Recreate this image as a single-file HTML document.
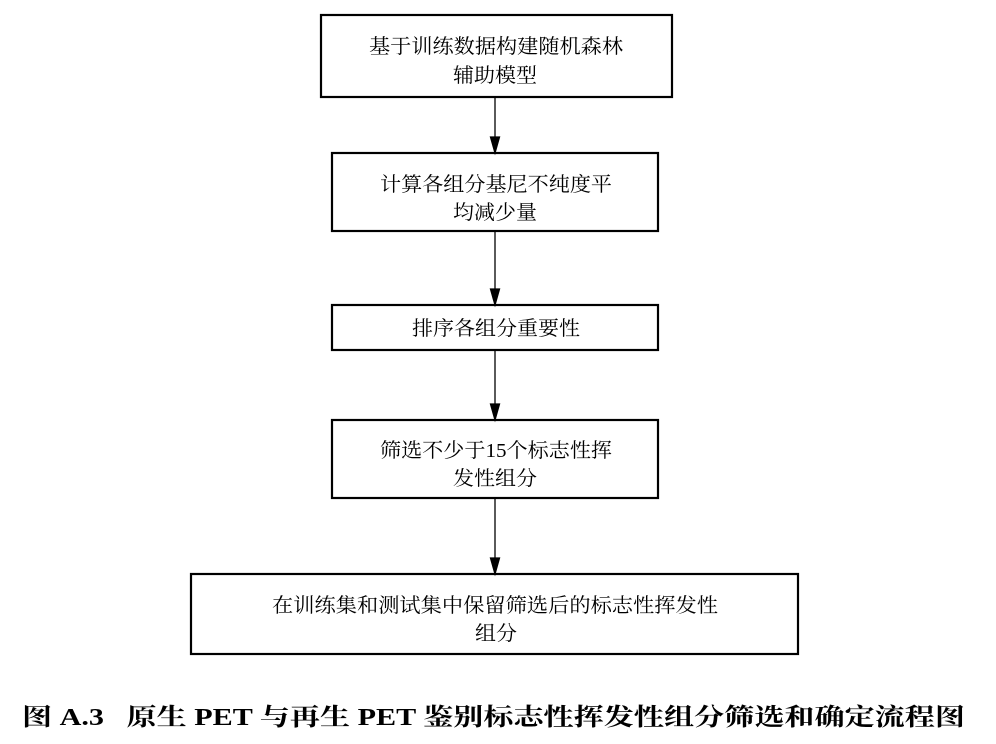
<!DOCTYPE html>
<html><head><meta charset="utf-8"><style>
html,body{margin:0;padding:0;background:#fff;}
svg{display:block;}
text{font-family:"Liberation Serif","Noto Serif CJK SC","Noto Sans CJK SC",serif;fill:#000;}
</style></head><body>
<svg width="996" height="744" viewBox="0 0 996 744" xmlns="http://www.w3.org/2000/svg">
<defs><marker id="a" markerWidth="10" markerHeight="16" refX="10" refY="4.5" orient="auto" markerUnits="userSpaceOnUse"><path d="M0,0 L10,4.5 L0,9 z" fill="#000"/></marker></defs>
<g fill="none" stroke="#000" stroke-width="2.2">
<rect x="321" y="15" width="351" height="82"/>
<rect x="332" y="153" width="326" height="78"/>
<rect x="332" y="305" width="326" height="45"/>
<rect x="332" y="420" width="326" height="78"/>
<rect x="191" y="574" width="607" height="80"/>
</g>
<g stroke="#000" stroke-width="1.3" fill="#000">
<line x1="495" y1="97" x2="495" y2="152"/><path d="M490.5,137 L499.5,137 L495,153 z"/>
<line x1="495" y1="231" x2="495" y2="304"/><path d="M490.5,289 L499.5,289 L495,305 z"/>
<line x1="495" y1="350" x2="495" y2="419"/><path d="M490.5,404 L499.5,404 L495,420 z"/>
<line x1="495" y1="498" x2="495" y2="573"/><path d="M490.5,558 L499.5,558 L495,574 z"/>
</g>
<g font-size="20">
<text x="369" y="53" textLength="254" lengthAdjust="spacingAndGlyphs">基于训练数据构建随机森林</text>
<text x="453" y="82" textLength="84" lengthAdjust="spacingAndGlyphs">辅助模型</text>
<text x="380" y="191" textLength="232" lengthAdjust="spacingAndGlyphs">计算各组分基尼不纯度平</text>
<text x="453" y="219" textLength="84" lengthAdjust="spacingAndGlyphs">均减少量</text>
<text x="412" y="335" textLength="168" lengthAdjust="spacingAndGlyphs">排序各组分重要性</text>
<text x="380" y="457" textLength="232" lengthAdjust="spacingAndGlyphs">筛选不少于15个标志性挥</text>
<text x="453" y="485" textLength="84" lengthAdjust="spacingAndGlyphs">发性组分</text>
<text x="272" y="612" textLength="446" lengthAdjust="spacingAndGlyphs">在训练集和测试集中保留筛选后的标志性挥发性</text>
<text x="475" y="640" textLength="42" lengthAdjust="spacingAndGlyphs">组分</text>
</g>
<text x="22" y="725" font-size="24" font-weight="bold" textLength="943" lengthAdjust="spacingAndGlyphs" xml:space="preserve">图 A.3   原生 PET 与再生 PET 鉴别标志性挥发性组分筛选和确定流程图</text>
</svg>
</body></html>
